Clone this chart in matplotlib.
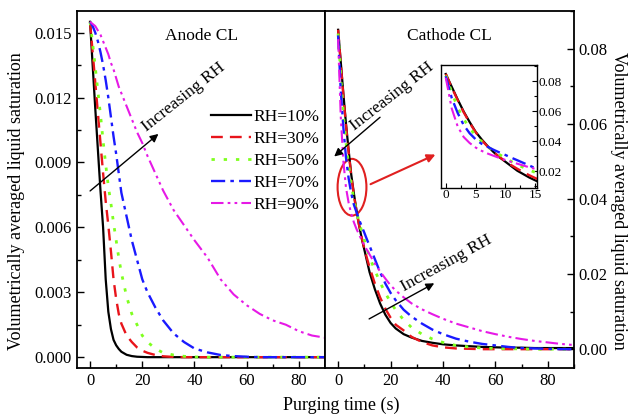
#!/usr/bin/env python3
"""Liquid saturation in anode / cathode CL during purging, for five RH levels."""

import matplotlib
matplotlib.use("Agg")
import matplotlib.pyplot as plt
from matplotlib.patches import Ellipse
from matplotlib.ticker import MultipleLocator, FormatStrFormatter

# Purging time grid (s), shared by all curves
TIME = [0, 1, 2, 3, 4, 5, 6, 7, 8, 9, 10, 11, 12, 14, 16, 18, 20, 22, 25, 28,
        32, 36, 40, 45, 50, 55, 60, 65, 70, 75, 80, 85, 90]

LABELS = ["RH=10%", "RH=30%", "RH=50%", "RH=70%", "RH=90%"]

# Anode CL, volumetrically averaged liquid saturation
ANODE_RH10 = [.0155, .0135, .0115, .0096, .0077, .0060, .0036, .0021, .0013, .0008, .00055,
              .00038, .00025, .00011, .00005, .00002, .00001, 0, 0, 0, 0, 0, 0, 0, 0, 0,
              0, 0, 0, 0, 0, 0, 0]
ANODE_RH30 = [.0155, .0141, .0127, .0113, .0099, .0085, .0072, .0061, .0049, .0036, .0027,
              .0020, .00155, .0010, .0007, .00045, .0003, .0002, .0001, .00004, .00001, 0,
              0, 0, 0, 0, 0, 0, 0, 0, 0, 0, 0]
ANODE_RH50 = [.0155, .0145, .0134, .0123, .0112, .0100, .0089, .0079, .0071, .0062, .0054,
              .0046, .0039, .0028, .0020, .0015, .0010, .0007, .0004, .0002, .0001, .00004,
              .00001, 0, 0, 0, 0, 0, 0, 0, 0, 0, 0]
ANODE_RH70 = [.0155, .0153, .0150, .0146, .0141, .0135, .0128, .0120, .0111, .0102, .0094,
              .0085, .0076, .0065, .0054, .0045, .0036, .0030, .0023, .0017, .0011, .0007,
              .0004, .00022, .0001, .00005, .00002, 0, 0, 0, 0, 0, 0]
ANODE_RH90 = [.0155, .0154, .0153, .0151, .0149, .0146, .0143, .0140, .0136, .0133, .0129,
              .0125, .0122, .0116, .0110, .0104, .0099, .0093, .0085, .0077, .0068, .0061,
              .0054, .0046, .0036, .0029, .0024, .0020, .0017, .0015, .0012, .0010, .0009]

# Cathode CL
CATHODE_RH10 = [.0850, .0765, .0680, .0600, .0530, .0465, .0415, .0370, .0330, .0295, .0265,
                .0235, .0205, .0160, .0122, .0092, .0070, .0055, .0040, .0031, .0022, .0017,
                .0013, .0010, .0008, .0006, .0005, .0004, .0004, .0003, .0003, .0003, .0003]
CATHODE_RH30 = [.0850, .0760, .0675, .0595, .0525, .0462, .0410, .0367, .0330, .0297, .0268,
                .0242, .0218, .0175, .0138, .0108, .0084, .0065, .0050, .0033, .0019, .0010,
                .0005, .0002, .0001, 0, 0, 0, 0, 0, 0, 0, 0]
CATHODE_RH50 = [.0840, .0730, .0625, .0550, .0490, .0440, .0400, .0365, .0340, .0313, .0290,
                .0267, .0245, .0210, .0178, .0150, .0125, .0104, .0078, .0058, .0040, .0027,
                .0018, .0010, .0006, .0003, .0002, .0001, .0001, 0, 0, 0, 0]
CATHODE_RH70 = [.0835, .0690, .0590, .0510, .0455, .0415, .0385, .0365, .0345, .0327, .0310,
                .0292, .0275, .0240, .0205, .0175, .0150, .0130, .0105, .0087, .0068, .0052,
                .0040, .0028, .0020, .0014, .0010, .0006, .0003, .0002, .0001, 0, 0]
CATHODE_RH90 = [.0825, .0620, .0500, .0430, .0390, .0360, .0338, .0320, .0305, .0290, .0277,
                .0264, .0252, .0228, .0207, .0188, .0170, .0156, .0138, .0122, .0106, .0093,
                .0081, .0068, .0058, .0048, .0040, .0033, .0027, .0022, .0018, .0014, .0011]

STYLES = [
    dict(color="black", linestyle="-", lw=1.6),
    dict(color="#e8141b", linestyle=(0, (5, 3)), lw=1.7),
    dict(color="#7fff1e", linestyle=(0, (1.2, 3.2)), lw=2.0),
    dict(color="#1a1aff", linestyle=(0, (6, 2.2, 1.5, 2.2)), lw=1.7),
    dict(color="#e619e6", linestyle=(0, (6, 2, 1.3, 2, 1.3, 2)), lw=1.5),
]

SERIF = "Liberation Serif"


def style_axis(ax):
    ax.tick_params(which="both", direction="in", width=1.0, labelsize=12)
    ax.tick_params(which="major", length=5)
    ax.tick_params(which="minor", length=3)
    for sp in ax.spines.values():
        sp.set_linewidth(1.3)


def main():
    plt.rcParams.update({
        "font.family": SERIF,
        "font.size": 12,
    })

    fig = plt.figure(figsize=(6.3, 4.15), dpi=100)
    ax1 = fig.add_axes([0.1222, 0.1133, 0.3937, 0.8602])
    ax2 = fig.add_axes([0.5159, 0.1133, 0.3952, 0.8602])

    anode = [ANODE_RH10, ANODE_RH30, ANODE_RH50, ANODE_RH70, ANODE_RH90]
    cathode = [CATHODE_RH10, CATHODE_RH30, CATHODE_RH50, CATHODE_RH70, CATHODE_RH90]

    for vals, lab, st in zip(anode, LABELS, STYLES):
        ax1.plot(TIME, vals, label=lab, **st)
    for vals, st in zip(cathode, STYLES):
        ax2.plot(TIME, vals, **st)

    # Anode panel
    ax1.set_xlim(-5, 90)
    ax1.set_ylim(-0.0005, 0.016)
    ax1.xaxis.set_major_locator(MultipleLocator(20))
    ax1.xaxis.set_minor_locator(MultipleLocator(10))
    ax1.yaxis.set_major_locator(MultipleLocator(0.003))
    ax1.yaxis.set_minor_locator(MultipleLocator(0.0015))
    ax1.yaxis.set_major_formatter(FormatStrFormatter("%.3f"))
    style_axis(ax1)
    ax1.tick_params(which="both", top=False, right=False)
    ax1.text(0.5, 0.93, "Anode CL", transform=ax1.transAxes, ha="center", va="center",
             fontsize=12.5)
    ax1.legend(loc="upper right", bbox_to_anchor=(0.985, 0.73), frameon=False,
               fontsize=12.5, handlelength=2.3, handletextpad=0.15, labelspacing=0.33,
               borderpad=0.1, borderaxespad=0)
    ax1.annotate("", xy=(27, 0.0104), xytext=(-0.8, 0.0076),
                 arrowprops=dict(arrowstyle="-|>", color="black", lw=1.0, mutation_scale=12))
    ax1.text(36, 0.0120, "Increasing RH", rotation=38.5, ha="center", va="center",
             fontsize=12.5)

    # Cathode panel
    ax2.set_xlim(-5, 90)
    ax2.set_ylim(-0.005, 0.09)
    ax2.xaxis.set_major_locator(MultipleLocator(20))
    ax2.xaxis.set_minor_locator(MultipleLocator(10))
    ax2.yaxis.set_major_locator(MultipleLocator(0.02))
    ax2.yaxis.set_minor_locator(MultipleLocator(0.01))
    ax2.yaxis.set_major_formatter(FormatStrFormatter("%.2f"))
    ax2.yaxis.tick_right()
    style_axis(ax2)
    ax2.tick_params(which="both", top=False, left=False, right=True)
    ax2.text(0.5, 0.93, "Cathode CL", transform=ax2.transAxes, ha="center", va="center",
             fontsize=12.5)
    ax2.annotate("", xy=(-2.3, 0.0508), xytext=(16.8, 0.0622),
                 arrowprops=dict(arrowstyle="-|>", color="black", lw=1.0, mutation_scale=12))
    ax2.text(20.5, 0.0672, "Increasing RH", rotation=38, ha="center", va="center",
             fontsize=12.5)
    ax2.annotate("", xy=(37.6, 0.0179), xytext=(10.9, 0.0077),
                 arrowprops=dict(arrowstyle="-|>", color="black", lw=1.0, mutation_scale=12))
    ax2.text(41.5, 0.0229, "Increasing RH", rotation=29, ha="center", va="center",
             fontsize=12.5)
    ax2.add_patch(Ellipse((5.3, 0.0431), 11, 0.0151, fill=False, edgecolor="#e02020", lw=1.5))
    ax2.annotate("", xy=(38.1, 0.0521), xytext=(11.4, 0.0436),
                 arrowprops=dict(arrowstyle="-|>", color="#e02020", lw=1.5, mutation_scale=12))

    # Inset zoom on the first 15 s of the cathode curves
    axi = fig.add_axes([441 / 630, 1 - 188 / 415, 96 / 630, 123 / 415])
    for vals, st in zip(cathode, STYLES):
        axi.plot(TIME, vals, **st)
    axi.set_xlim(-0.8, 15.3)
    axi.set_ylim(0.009, 0.091)
    axi.xaxis.set_major_locator(MultipleLocator(5))
    axi.xaxis.set_minor_locator(MultipleLocator(2.5))
    axi.yaxis.set_major_locator(MultipleLocator(0.02))
    axi.yaxis.set_minor_locator(MultipleLocator(0.01))
    axi.yaxis.set_major_formatter(FormatStrFormatter("%.2f"))
    axi.yaxis.tick_right()
    axi.tick_params(which="both", direction="in", labelsize=9.5, pad=1, width=0.8)
    axi.tick_params(which="major", length=3.5)
    axi.tick_params(which="minor", length=2)
    axi.tick_params(which="both", top=False, left=False, right=True)
    for sp in axi.spines.values():
        sp.set_linewidth(1.0)

    # Axis titles
    fig.text(341 / 630, 1 - 405 / 415, "Purging time (s)", ha="center", va="center",
             fontsize=13)
    fig.text(17 / 630, 0.516, "Volumetrically averaged liquid saturation", rotation=90,
             ha="center", va="center", fontsize=13)
    fig.text(619 / 630, 0.516, "Volumetrically averaged liquid saturation", rotation=270,
             ha="center", va="center", fontsize=13)

    fig.savefig("out.png", dpi=100)
    plt.close(fig)


if __name__ == "__main__":
    main()
